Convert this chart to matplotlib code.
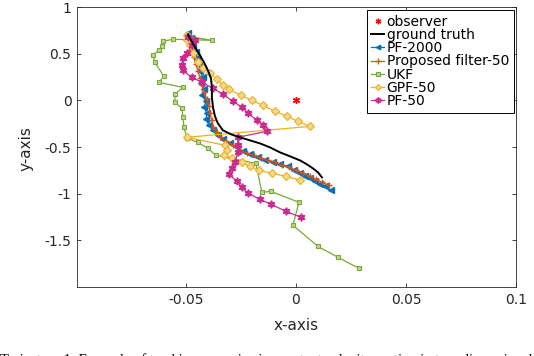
import matplotlib
matplotlib.use("Agg")
import matplotlib.pyplot as plt

plt.rcParams['font.family'] = ['DejaVu Sans']

observer_x = [0.0]
observer_y = [0.0]

gt_x = [-0.0491, -0.0477, -0.0455, -0.0436, -0.0418, -0.0400, -0.0386, -0.0382, -0.0382, -0.0377,
        -0.0368, -0.0355, -0.0332, -0.0295, -0.0255, -0.0209, -0.0164, -0.0118, -0.0073, -0.0027,
        0.0018, 0.0050, 0.0077, 0.0100, 0.0118]
gt_y = [0.707, 0.643, 0.557, 0.482, 0.407, 0.321, 0.236, 0.139, 0.032, -0.075,
        -0.171, -0.246, -0.321, -0.364, -0.396, -0.429, -0.461, -0.504, -0.557, -0.600,
        -0.643, -0.686, -0.729, -0.771, -0.825]

pf2000_x = [-0.0491, -0.0477, -0.0468, -0.0455, -0.0450, -0.0441, -0.0436, -0.0423, -0.0432, -0.0418,
            -0.0427, -0.0409, -0.0418, -0.0405, -0.0409, -0.0395, -0.0377, -0.0355, -0.0332, -0.0300,
            -0.0268, -0.0241, -0.0209, -0.0173, -0.0141, -0.0105, -0.0073, -0.0036, -0.0009, 0.0018,
            0.0041, 0.0064, 0.0086, 0.0109, 0.0132, 0.0159]
pf2000_y = [0.718, 0.664, 0.589, 0.514, 0.450, 0.375, 0.311, 0.246, 0.182, 0.118,
            0.054, -0.011, -0.075, -0.139, -0.204, -0.268, -0.321, -0.375, -0.418, -0.461,
            -0.504, -0.546, -0.579, -0.611, -0.643, -0.664, -0.686, -0.707, -0.750, -0.782,
            -0.814, -0.836, -0.868, -0.900, -0.921, -0.964]

prop_x = [-0.0495, -0.0482, -0.0473, -0.0464, -0.0455, -0.0445, -0.0436, -0.0427, -0.0418, -0.0405,
          -0.0395, -0.0391, -0.0382, -0.0377, -0.0359, -0.0345, -0.0318, -0.0286, -0.0255, -0.0223,
          -0.0191, -0.0159, -0.0127, -0.0095, -0.0064, -0.0032, 0.0000, 0.0032, 0.0064, 0.0091,
          0.0118, 0.0150]
prop_y = [0.696, 0.621, 0.536, 0.461, 0.386, 0.311, 0.236, 0.161, 0.086, 0.011,
          -0.064, -0.139, -0.214, -0.289, -0.343, -0.396, -0.439, -0.482, -0.536, -0.568,
          -0.589, -0.621, -0.643, -0.664, -0.696, -0.718, -0.750, -0.782, -0.814, -0.846,
          -0.879, -0.911]

ukf_x = [-0.0491, -0.0382, -0.0559, -0.0605, -0.0609, -0.0623, -0.0650, -0.0641, -0.0600, -0.0623,
         -0.0514, -0.0550, -0.0550, -0.0518, -0.0514, -0.0509, -0.0495, -0.0445, -0.0400, -0.0364,
         -0.0182, -0.0155, -0.0114, 0.0014, -0.0014, 0.0100, 0.0191, 0.0286]
ukf_y = [0.686, 0.643, 0.654, 0.632, 0.579, 0.536, 0.482, 0.407, 0.257, 0.193,
         0.139, 0.064, -0.021, -0.086, -0.182, -0.289, -0.407, -0.450, -0.514, -0.589,
         -0.675, -0.986, -0.975, -1.093, -1.339, -1.564, -1.682, -1.800]

gpf_x = [-0.0495, -0.0495, -0.0482, -0.0468, -0.0445, -0.0423, -0.0391, -0.0359, -0.0332, -0.0305,
         -0.0250, -0.0200, -0.0150, -0.0095, -0.0041, 0.0009, 0.0064, -0.0495, -0.0323, -0.0314,
         -0.0327, -0.0291, -0.0245, -0.0209, -0.0168, -0.0109, -0.0045, 0.0018]
gpf_y = [0.696, 0.643, 0.589, 0.504, 0.407, 0.343, 0.289, 0.225, 0.161, 0.118,
         0.054, 0.000, -0.054, -0.118, -0.171, -0.225, -0.279, -0.396, -0.482, -0.536,
         -0.589, -0.621, -0.664, -0.707, -0.750, -0.782, -0.814, -0.857]

pf50_x = [-0.0491, -0.0459, -0.0473, -0.0495, -0.0514, -0.0518, -0.0514, -0.0473, -0.0427, -0.0377,
          -0.0332, -0.0286, -0.0245, -0.0218, -0.0177, -0.0150, -0.0132, -0.0264, -0.0264, -0.0264,
          -0.0277, -0.0291, -0.0305, -0.0268, -0.0245, -0.0218, -0.0164, -0.0114, -0.0045, 0.0023]
pf50_y = [0.675, 0.643, 0.589, 0.504, 0.450, 0.375, 0.321, 0.246, 0.193, 0.129,
          0.064, -0.011, -0.075, -0.139, -0.214, -0.268, -0.332, -0.396, -0.482, -0.557,
          -0.664, -0.729, -0.793, -0.868, -0.932, -0.996, -1.061, -1.114, -1.189, -1.254]

x_ticks = [-0.05, 0, 0.05, 0.1]
x_ticklabels = ['-0.05', '0', '0.05', '0.1']
y_ticks = [-1.5, -1, -0.5, 0, 0.5, 1]
y_ticklabels = ['-1.5', '-1', '-0.5', '0', '0.5', '1']

caption = "Trajectory 1: Example of tracking scenarios in constant velocity motion in two-dimensional"

fig = plt.figure(figsize=(5.34, 3.56), dpi=100)
ax = fig.add_axes([77/534, 1-287/356, (516-77)/534, (287-7)/356])

lw = 0.9
ms = 4
ax.plot(observer_x, observer_y, linestyle='none', marker=(6, 2, 0), color='#FF0000',
        ms=5, mew=1.0, label='observer', zorder=5)
ax.plot(gt_x, gt_y, color='black', lw=1.4, label='ground truth', zorder=4)
ax.plot(pf2000_x, pf2000_y, color='#0072BD', lw=lw, marker='<', ms=ms, label='PF-2000', zorder=3)
ax.plot(prop_x, prop_y, color='#D95319', lw=lw, marker='+', ms=ms + 1, mew=1.0,
        label='Proposed filter-50', zorder=3)
ax.plot(ukf_x, ukf_y, color='#77AC30', lw=lw, marker='s', ms=3.5, mfc='#BBD698', mew=0.8,
        label='UKF', zorder=3)
ax.plot(gpf_x, gpf_y, color='#EDB120', lw=lw, marker='D', ms=3.8, mfc='#F6D88F', mew=0.8,
        label='GPF-50', zorder=3)
ax.plot(pf50_x, pf50_y, color='#CC2A8C', lw=lw, marker=(6, 1, 0), ms=5.5,
        label='PF-50', zorder=3)

ax.set_xlim(-0.0995, 0.1)
ax.set_ylim(-2, 1)
ax.set_xticks(x_ticks)
ax.set_xticklabels(x_ticklabels)
ax.set_yticks(y_ticks)
ax.set_yticklabels(y_ticklabels)

for s in ax.spines.values():
    s.set_color('#262626')
    s.set_linewidth(0.6)
ax.tick_params(direction='in', top=True, right=True, length=3, width=0.6,
               color='#262626', labelsize=10, labelcolor='#262626', pad=4)

ax.set_xlabel('x-axis', fontsize=11, color='#262626', labelpad=8)
ax.set_ylabel('y-axis', fontsize=11, color='#262626')
ax.yaxis.set_label_coords(-0.100, 0.496)

leg = ax.legend(loc='upper right', bbox_to_anchor=(0.9954, 0.989), borderaxespad=0,
                fontsize=10, fancybox=False, framealpha=1, edgecolor='black',
                handlelength=0.9, handletextpad=0.2, labelspacing=-0.06, borderpad=0.35,
                markerscale=0.8)
leg.get_frame().set_linewidth(0.7)

fig.text(0.0, (356 - 364) / 356, caption, family='Liberation Serif', fontsize=10.5,
         ha='left', va='baseline', color='black')

fig.savefig('out.png', dpi=100)
